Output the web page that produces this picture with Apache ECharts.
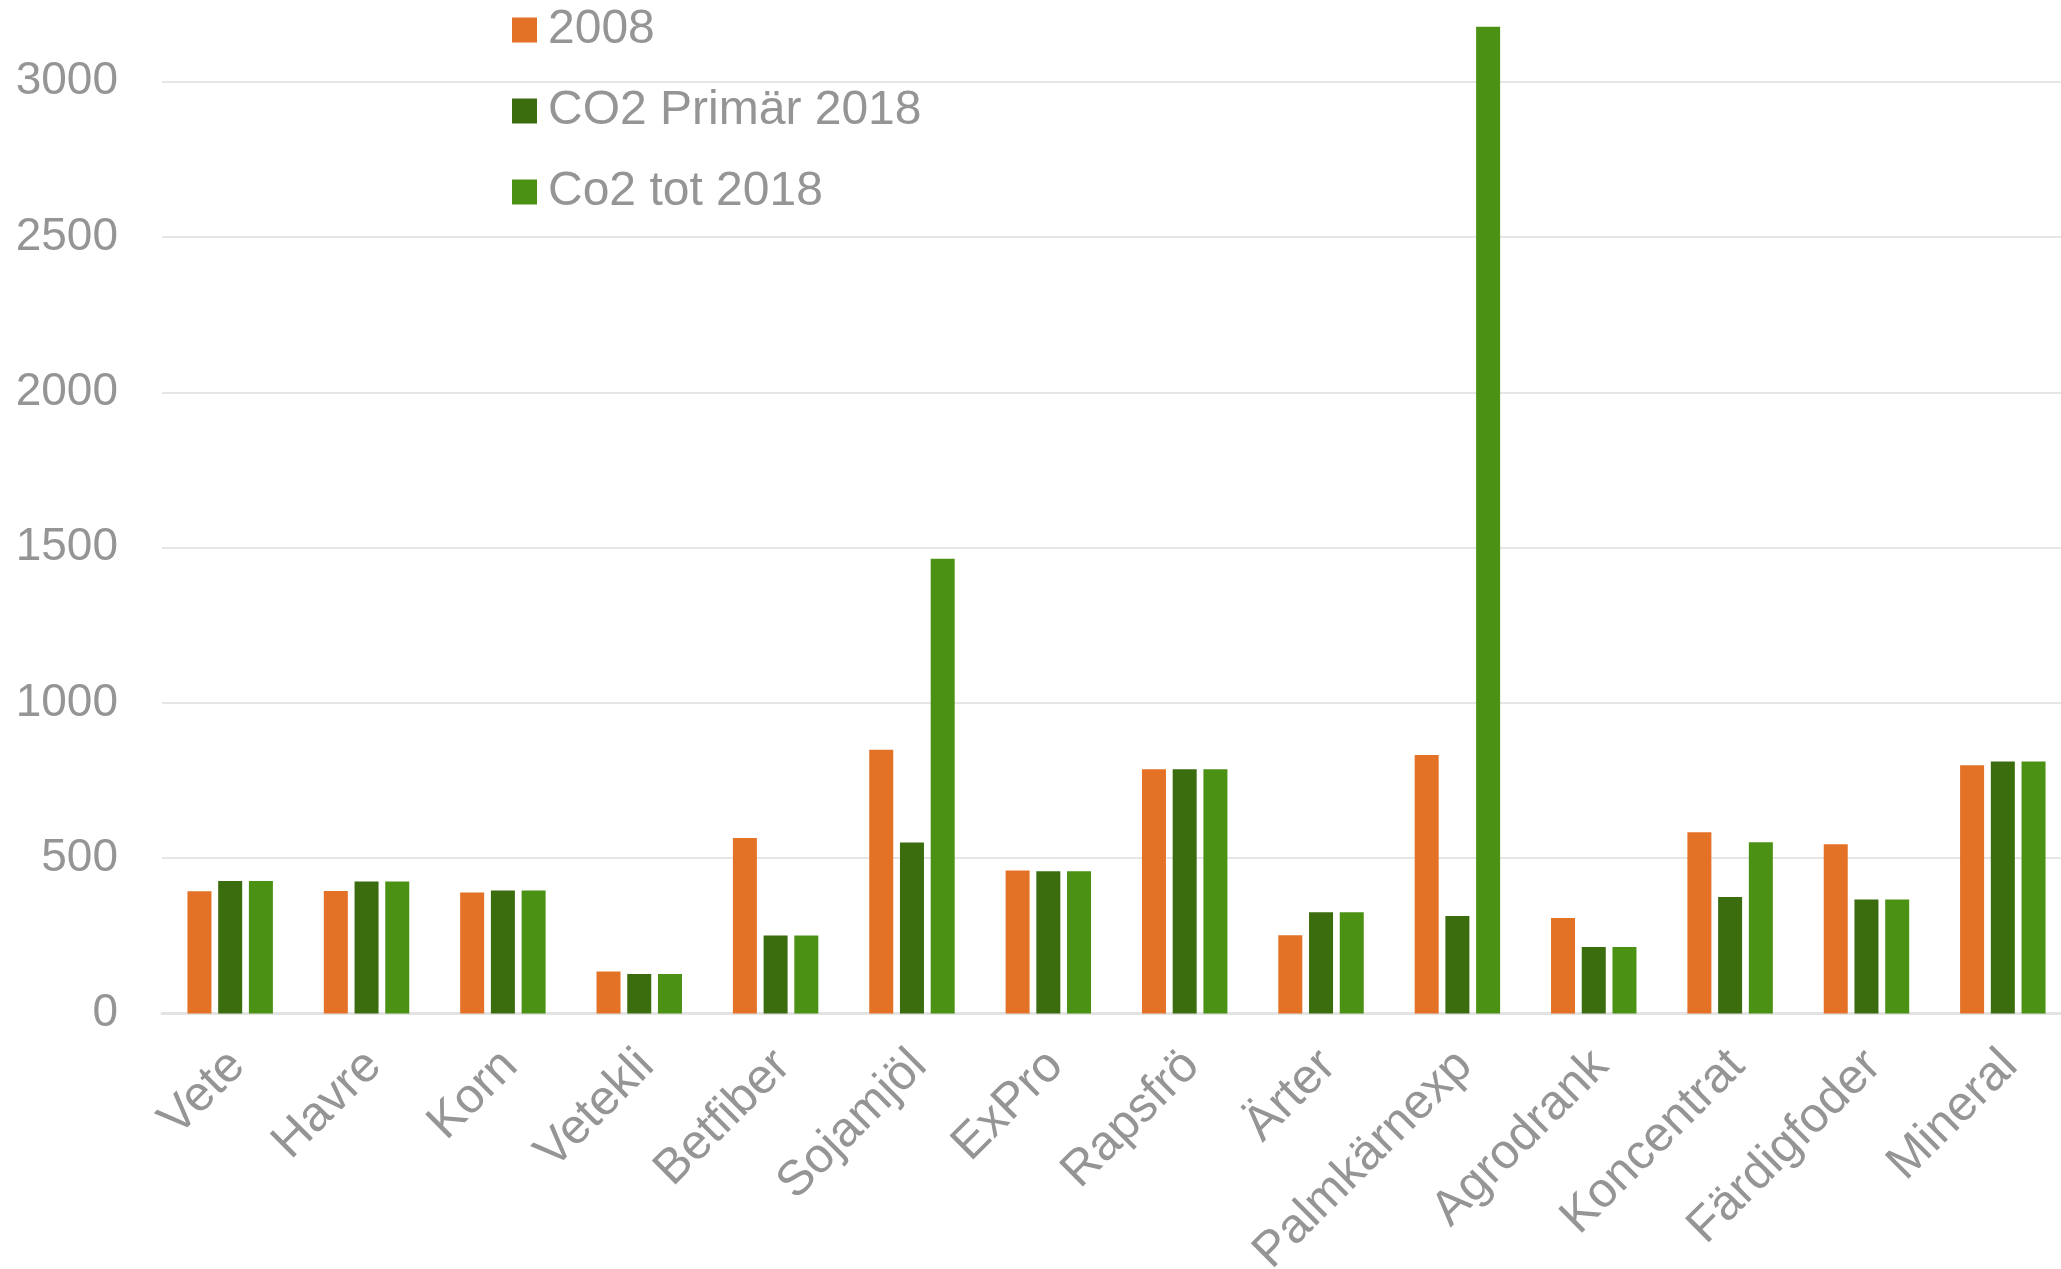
<!DOCTYPE html>
<html>
<head>
<meta charset="utf-8">
<script src="https://cdn.jsdelivr.net/npm/echarts@6/dist/echarts.min.js"></script>
<style>
  html, body { margin: 0; padding: 0; background: #fff; }
  #chart { width: 2061px; height: 1269px; }
</style>
</head>
<body>
<div id="chart"></div>
<script>
// kategorier och värden
var categories = ['Vete', 'Havre', 'Korn', 'Vetekli', 'Betfiber', 'Sojamjöl', 'ExPro',
  'Rapsfrö', 'Ärter', 'Palmkärnexp', 'Agrodrank', 'Koncentrat', 'Färdigfoder', 'Mineral'];
var seriesNames = ['2008', 'CO2 Primär 2018', 'Co2 tot 2018'];
var values2008 = [393, 394, 389, 135, 565, 849, 460, 786, 252, 832, 307, 583, 545, 799];
var valuesPrimar2018 = [426, 425, 396, 127, 251, 550, 458, 786, 326, 314, 214, 375, 367, 811];
var valuesTot2018 = [426, 425, 396, 127, 251, 1464, 458, 786, 326, 3177, 214, 551, 367, 811];
var yTicks = [0, 500, 1000, 1500, 2000, 2500, 3000];

var colors = ['#E37226', '#3B6D0F', '#4B9214'];
var grey = '#959595';
var font = 'Liberation Sans, Arial, sans-serif';

var myChart = echarts.init(document.getElementById('chart'));

function bar(name, data, color) {
  return {
    name: name,
    type: 'bar',
    data: data,
    barWidth: 24,
    barGap: '28%',
    clip: false,
    itemStyle: { color: color },
    animation: false
  };
}

var option = {
  animation: false,
  textStyle: { fontFamily: font },
  legend: {
    orient: 'vertical',
    left: 507,
    top: 1,
    icon: 'rect',
    itemWidth: 25,
    itemHeight: 25,
    itemGap: 33,
    textStyle: { fontSize: 48, color: grey, fontFamily: font, padding: [0, 0, 0, 6] },
    data: seriesNames
  },
  grid: {
    left: 162,
    top: 81.7,
    right: -10,
    bottom: 255.6,
    containLabel: false,
    outerBoundsMode: 'none'
  },
  xAxis: {
    type: 'category',
    data: categories,
    axisLine: { lineStyle: { color: '#e3e3e3', width: 3 } },
    axisTick: { show: false },
    axisLabel: {
      rotate: 45,
      interval: 0,
      margin: 52,
      fontSize: 49,
      color: grey,
      fontFamily: font,
      padding: [0, -10, 0, 0]
    }
  },
  yAxis: {
    type: 'value',
    min: yTicks[0],
    max: yTicks[yTicks.length - 1],
    interval: 500,
    axisLine: { show: false },
    axisTick: { show: false },
    splitLine: { lineStyle: { color: '#e6e6e6', width: 2 } },
    axisLabel: {
      fontSize: 46,
      color: grey,
      margin: 44,
      fontFamily: font,
      formatter: function (v) { return String(v); }
    }
  },
  series: [
    bar(seriesNames[0], values2008, colors[0]),
    bar(seriesNames[1], valuesPrimar2018, colors[1]),
    bar(seriesNames[2], valuesTot2018, colors[2])
  ]
};

myChart.setOption(option);
</script>
</body>
</html>
